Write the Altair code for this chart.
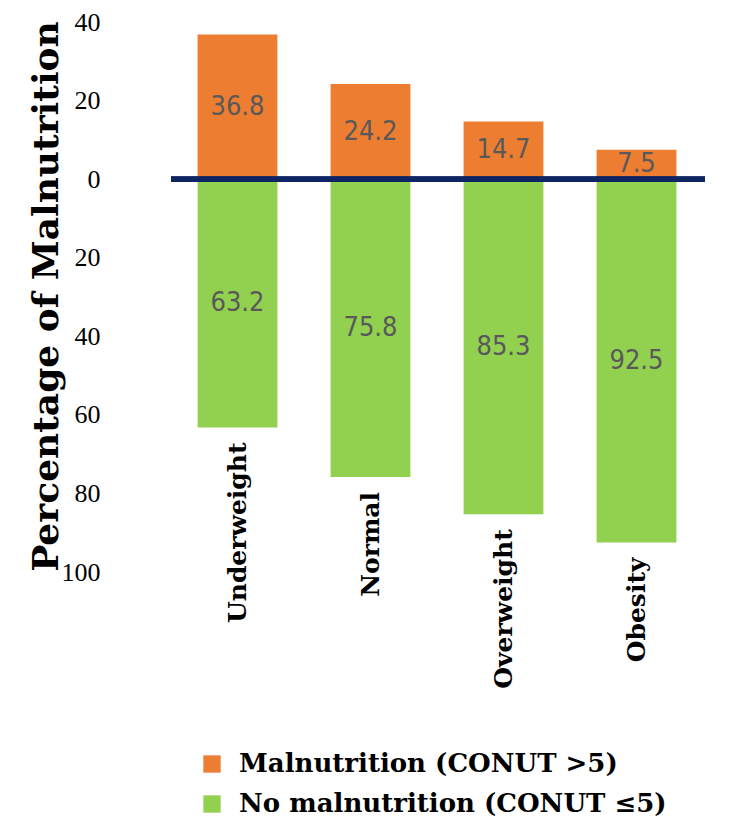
import altair as alt
import pandas as pd

categories = ["Underweight", "Normal", "Overweight", "Obesity"]
malnutrition = [36.8, 24.2, 14.7, 7.5]
no_malnutrition = [63.2, 75.8, 85.3, 92.5]
groups = ["Malnutrition (CONUT >5)", "No malnutrition (CONUT ≤5)"]
y_ticks = [40, 20, 0, -20, -40, -60, -80, -100]

rows = []
for c, m, n in zip(categories, malnutrition, no_malnutrition):
    rows.append({"category": c, "group": groups[0], "value": m, "label": f"{m}"})
    rows.append({"category": c, "group": groups[1], "value": -n, "label": f"{n}"})
df = pd.DataFrame(rows)

x_enc = alt.X("category:N", sort=categories, axis=None,
              scale=alt.Scale(paddingInner=0.4, paddingOuter=0.2))
y_scale = alt.Scale(domain=[-100, 40], nice=False)

bars = alt.Chart(df).mark_bar().encode(
    x=x_enc,
    y=alt.Y("value:Q", scale=y_scale,
            axis=alt.Axis(values=y_ticks, labelExpr="abs(datum.value)",
                          domain=False, ticks=False, grid=False,
                          labelFont="Liberation Serif", labelFontSize=26,
                          labelColor="black", labelPadding=71,
                          title="Percentage of Malnutrition",
                          titleFont="DejaVu Serif", titleFontWeight="bold",
                          titleFontSize=36, titleColor="black",
                          titleAngle=270, titleX=-125, titleY=274,
                          titleAlign="center", titleBaseline="middle")),
    color=alt.Color("group:N", scale=alt.Scale(domain=groups, range=["#ED7D31", "#92D050"]),
                    legend=alt.Legend(title=None, orient="none", legendX=28, legendY=729,
                                      direction="vertical", symbolType="square",
                                      symbolSize=300, symbolStrokeWidth=0,
                                      labelFont="DejaVu Serif", labelFontWeight="bold",
                                      labelFontSize=26, labelColor="black",
                                      rowPadding=14, labelOffset=14, labelLimit=600)),
)

values = alt.Chart(df).transform_calculate(mid="datum.value / 2").mark_text(
    font="Liberation Sans Narrow, DejaVu Sans Condensed, Roboto", fontSize=27, color="#595959",
    align="center", baseline="middle"
).encode(x=x_enc, y=alt.Y("mid:Q", scale=y_scale), text="label:N")

cat_labels = alt.Chart(df).transform_filter("datum.value < 0").mark_text(
    font="DejaVu Serif", fontWeight="bold", fontSize=25, color="black",
    angle=270, align="right", baseline="middle", dx=-15
).encode(x=x_enc, y=alt.Y("value:Q", scale=y_scale), text="category:N")

zero = alt.Chart(df).mark_rule(color="#0F2462", strokeWidth=5).encode(
    y=alt.datum(0), x=alt.value(0), x2=alt.value(534)
)

chart = alt.layer(bars, values, zero, cat_labels).properties(
    width=532, height=550,
    autosize=alt.AutoSizeParams(type="none"),
    padding={"left": 163, "top": 14, "right": 26, "bottom": 250},
).configure_view(stroke=None)

chart.save("out.html", embed_options={"renderer": "svg", "actions": False})
